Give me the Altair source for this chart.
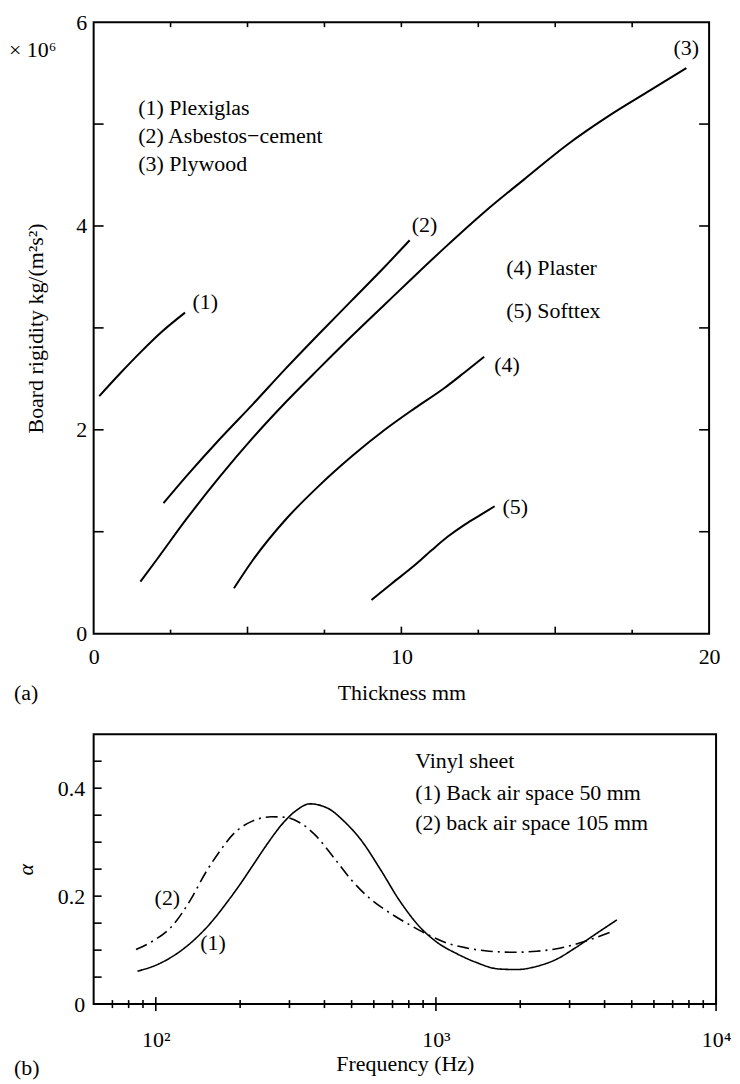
import altair as alt
import pandas as pd

FONT = "Liberation Serif"
FS = 22

# ---------------- Panel (a): board rigidity vs thickness ----------------
c1_x = [0.18, 0.88, 1.52, 2.17, 2.97]
c1_y = [2.33, 2.56, 2.76, 2.95, 3.15]
c2_x = [2.27, 3.03, 4.10, 5.17, 6.24, 7.32, 8.39, 9.46, 10.27]
c2_y = [1.28, 1.55, 1.91, 2.25, 2.60, 2.94, 3.27, 3.60, 3.86]
c3_x = [1.52, 2.06, 3.03, 4.10, 5.17, 6.24, 7.32, 8.39, 9.46, 10.43, 11.42, 12.71, 14.0, 15.4, 16.79, 18.08, 19.26]
c3_y = [0.51, 0.73, 1.13, 1.54, 1.92, 2.27, 2.60, 2.92, 3.23, 3.51, 3.79, 4.14, 4.46, 4.80, 5.09, 5.33, 5.55]
c4_x = [4.56, 5.17, 6.24, 7.32, 8.39, 9.46, 10.43, 11.4, 12.06, 12.69]
c4_y = [0.445, 0.72, 1.12, 1.45, 1.74, 2.0, 2.21, 2.41, 2.565, 2.716]
c5_x = [9.03, 9.68, 10.43, 10.99, 11.5, 12.06, 12.6, 13.03]
c5_y = [0.33, 0.49, 0.67, 0.82, 0.95, 1.07, 1.17, 1.25]

a_label_text = ["(1)", "(2)", "(3)", "(4)", "(5)"]
a_label_x = [3.63, 10.75, 19.26, 13.43, 13.7]
a_label_y = [3.25, 4.01, 5.75, 2.64, 1.24]

a_legend_text = ["(1) Plexiglas", "(2) Asbestos\u2212cement", "(3) Plywood", "(4) Plaster", "(5) Softtex"]
a_legend_x = [1.45, 1.45, 1.45, 13.41, 13.41]
a_legend_y = [5.16, 4.88, 4.61, 3.59, 3.17]

a_xticks_major = [5, 10, 15]
a_xticks_minor = [2.5, 7.5, 12.5, 17.5]
a_yticks = [1, 2, 3, 4, 5]
a_xlabels = [0, 10, 20]
a_ylabels = [0, 2, 4, 6]

# ---------------- Panel (b): absorption vs frequency ----------------
b1_f = [86, 100, 112, 126, 141, 158, 178, 200, 224, 251, 282, 316, 355, 414, 465, 542, 631, 741, 865, 1000,
        1191, 1380, 1679, 1950, 2291, 2692, 3141, 3673, 4426]
b1_a = [0.061, 0.072, 0.085, 0.103, 0.125, 0.152, 0.186, 0.222, 0.260, 0.298, 0.333, 0.358, 0.371, 0.362, 0.341,
        0.303, 0.251, 0.192, 0.146, 0.116, 0.093, 0.078, 0.065, 0.064, 0.070, 0.083, 0.104, 0.128, 0.156]
b2_f = [85, 97, 114, 133, 150, 168, 189, 221, 259, 291, 327, 368, 431, 501, 589, 689, 805, 942,
        1096, 1288, 1549, 1905, 2291, 2793, 3388, 4285]
b2_a = [0.101, 0.116, 0.144, 0.193, 0.242, 0.281, 0.315, 0.339, 0.347, 0.346, 0.336, 0.315, 0.272,
        0.229, 0.193, 0.168, 0.147, 0.128, 0.113, 0.104, 0.098, 0.096, 0.098, 0.104, 0.116, 0.135]

b_label_text = ["(2)", "(1)"]
b_label_f = [110, 160]
b_label_a = [0.197, 0.113]

b_legend_text = ["Vinyl sheet", "(1) Back air space 50 mm", "(2) back air space 105 mm"]
b_legend_f = [844, 844, 844]
b_legend_a = [0.450, 0.391, 0.336]

b_xticks_major = [100, 1000, 10000]
b_xticks_minor = [70, 80, 90, 200, 300, 400, 500, 600, 700, 800, 900,
                  2000, 3000, 4000, 5000, 6000, 7000, 8000, 9000]
b_yticks = [0.05, 0.1, 0.15, 0.2, 0.25, 0.3, 0.35, 0.4, 0.45]
b_ylabels = [0, 0.2, 0.4]

tick_style = dict(color="black", strokeWidth=1.6)
text_style = dict(font=FONT, fontSize=FS, color="black", baseline="middle")

# ---------------- build panel (a) ----------------
WA, HA = 618, 614
rows = []
for name, xs, ys in [("1", c1_x, c1_y), ("2", c2_x, c2_y), ("3", c3_x, c3_y), ("4", c4_x, c4_y), ("5", c5_x, c5_y)]:
    for i, (x, y) in enumerate(zip(xs, ys)):
        rows.append({"series": name, "i": i, "x": x, "y": y})
df_a = pd.DataFrame(rows)

xa = alt.X("x:Q", scale=alt.Scale(domain=[0, 20], nice=False),
           axis=alt.Axis(values=a_xlabels, format="d", title="Thickness mm",
                         labelPadding=13, titlePadding=15, labelFlush=False))
ya = alt.Y("y:Q", scale=alt.Scale(domain=[0, 6], nice=False),
           axis=alt.Axis(values=a_ylabels, format="d", title="Board rigidity kg/(m\u00b2s\u00b2)",
                         labelPadding=7, titlePadding=28))

lines_a = alt.Chart(df_a).mark_line(color="black", strokeWidth=2, interpolate="monotone").encode(
    x=xa, y=ya, detail="series:N", order="i:Q")

labels_a = alt.Chart(pd.DataFrame({"x": a_label_x, "y": a_label_y, "t": a_label_text})).mark_text(
    align="center", **text_style).encode(x="x:Q", y="y:Q", text="t:N")

legend_a = alt.Chart(pd.DataFrame({"x": a_legend_x, "y": a_legend_y, "t": a_legend_text})).mark_text(
    align="left", **text_style).encode(x="x:Q", y="y:Q", text="t:N")

df_xmaj = pd.DataFrame({"x": a_xticks_major})
df_xmin = pd.DataFrame({"x": a_xticks_minor})
df_xall = pd.DataFrame({"x": sorted(a_xticks_major + a_xticks_minor)})
df_yt = pd.DataFrame({"y": a_yticks})

bt_maj = alt.Chart(df_xmaj).mark_rule(**tick_style).encode(x="x:Q", y=alt.value(HA - 7), y2=alt.value(HA))
bt_min = alt.Chart(df_xmin).mark_rule(**tick_style).encode(x="x:Q", y=alt.value(HA - 4), y2=alt.value(HA))
tt_all = alt.Chart(df_xall).mark_rule(**tick_style).encode(x="x:Q", y=alt.value(0), y2=alt.value(5))
lt = alt.Chart(df_yt).mark_rule(**tick_style).encode(y="y:Q", x=alt.value(0), x2=alt.value(10))
rt = alt.Chart(df_yt).mark_rule(**tick_style).encode(y="y:Q", x=alt.value(WA - 10), x2=alt.value(WA))

mult = alt.Chart(pd.DataFrame({"t": ["\u00d7 10\u2076"]})).mark_text(align="left", **text_style).encode(
    text="t:N", x=alt.value(-85), y=alt.value(28))
tag_a = alt.Chart(pd.DataFrame({"t": ["(a)"]})).mark_text(align="left", **text_style).encode(
    text="t:N", x=alt.value(-80), y=alt.value(HA + 60))

top = alt.layer(lines_a, labels_a, legend_a, bt_maj, bt_min, tt_all, lt, rt, mult, tag_a).properties(
    width=WA, height=HA)

# ---------------- build panel (b) ----------------
WB, HB = 625, 271
rows = []
for name, fs, als in [("1", b1_f, b1_a), ("2", b2_f, b2_a)]:
    for i, (f, a) in enumerate(zip(fs, als)):
        rows.append({"series": name, "i": i, "f": f, "a": a})
df_b = pd.DataFrame(rows)

xb = alt.X("f:Q", scale=alt.Scale(type="log", domain=[60, 10000], nice=False),
           axis=alt.Axis(values=b_xticks_major, title="Frequency (Hz)",
                         labelExpr="datum.value == 100 ? '10\u00b2' : datum.value == 1000 ? '10\u00b3' : '10\u2074'",
                         labelPadding=26, titlePadding=3, labelFlush=False))
yb = alt.Y("a:Q", scale=alt.Scale(domain=[0, 0.5], nice=False),
           axis=alt.Axis(values=b_ylabels, title="\u03b1", titleFontStyle="italic",
                         labelExpr="datum.value == 0 ? '0' : format(datum.value, '.1f')",
                         labelPadding=9, titlePadding=20))

lines_b = alt.Chart(df_b).mark_line(color="black", strokeWidth=1.6, interpolate="monotone").encode(
    x=xb, y=yb, detail="series:N", order="i:Q",
    strokeDash=alt.StrokeDash("series:N", scale=alt.Scale(domain=["1", "2"], range=[[1, 0], [12, 5, 2, 5]]),
                              legend=None))

labels_b = alt.Chart(pd.DataFrame({"f": b_label_f, "a": b_label_a, "t": b_label_text})).mark_text(
    align="center", **text_style).encode(x="f:Q", y="a:Q", text="t:N")

legend_b = alt.Chart(pd.DataFrame({"f": b_legend_f, "a": b_legend_a, "t": b_legend_text})).mark_text(
    align="left", **text_style).encode(x="f:Q", y="a:Q", text="t:N")

b_maj = alt.Chart(pd.DataFrame({"f": b_xticks_major})).mark_rule(**tick_style).encode(
    x="f:Q", y=alt.value(HB - 7), y2=alt.value(HB + 7))
b_min = alt.Chart(pd.DataFrame({"f": b_xticks_minor})).mark_rule(**tick_style).encode(
    x="f:Q", y=alt.value(HB - 4), y2=alt.value(HB + 4))
b_lt = alt.Chart(pd.DataFrame({"a": b_yticks})).mark_rule(**tick_style).encode(
    y="a:Q", x=alt.value(0), x2=alt.value(8))

tag_b = alt.Chart(pd.DataFrame({"t": ["(b)"]})).mark_text(align="left", **text_style).encode(
    text="t:N", x=alt.value(-80), y=alt.value(335))

bottom = alt.layer(lines_b, labels_b, legend_b, b_maj, b_min, b_lt, tag_b).properties(
    width=WB, height=HB)

chart = alt.vconcat(top, bottom, spacing=28).properties(
    padding={"top": 0, "left": 0, "right": 0, "bottom": 0}
).configure(
    background="white"
).configure_view(
    stroke="black", strokeWidth=2
).configure_axis(
    domain=False, ticks=False, grid=False,
    labelFont=FONT, titleFont=FONT, labelFontSize=FS, titleFontSize=FS,
    labelColor="black", titleColor="black", titleFontWeight="normal",
    labelOverlap=False
)

chart.save("out.html", embed_options={"renderer": "svg", "actions": False})
